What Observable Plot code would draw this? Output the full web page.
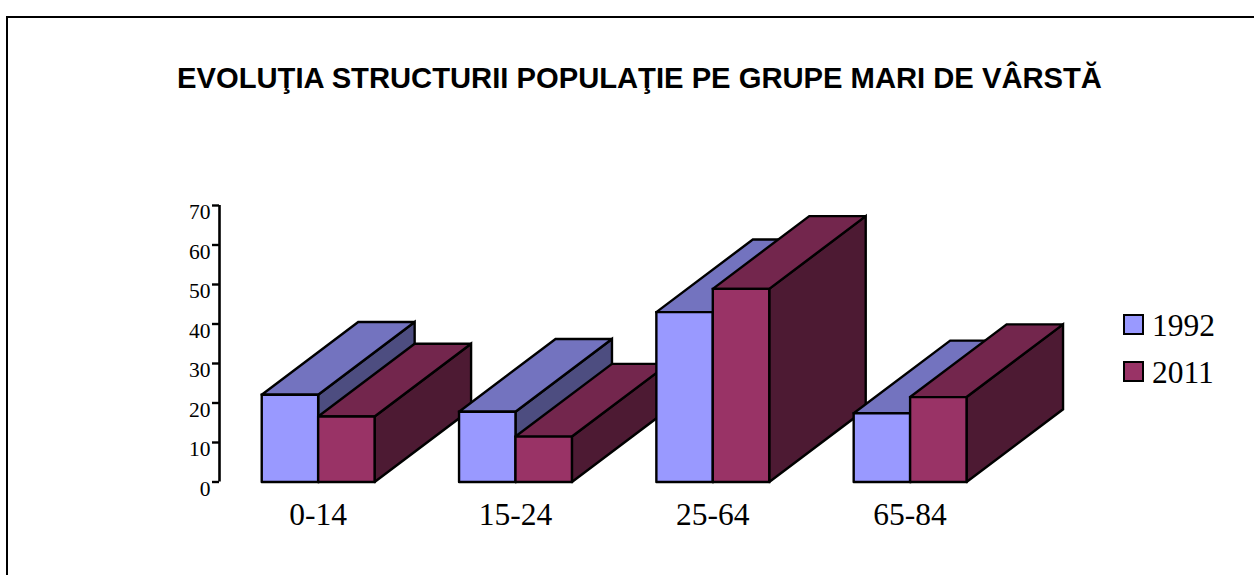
<!DOCTYPE html>
<html>
<head>
<meta charset="utf-8">
<script src="https://cdn.jsdelivr.net/npm/d3@7"></script>
<script src="https://cdn.jsdelivr.net/npm/@observablehq/plot@0.6"></script>
<style>
html,body{margin:0;padding:0;background:#fff;}
#page{position:relative;width:1254px;height:575px;overflow:hidden;color:#000;}
#frame{position:absolute;left:6px;top:16px;width:1260px;height:600px;border:2px solid #000;box-sizing:border-box;}
#title{position:absolute;left:0;width:1279px;top:62px;margin:0;text-align:center;font:bold 29.2px/32px "Liberation Sans",Arial,sans-serif;white-space:nowrap;}
#chart{position:absolute;left:0;top:190px;}
.lg{position:absolute;left:1123px;display:flex;align-items:center;font:31.5px/36px "Liberation Serif","Times New Roman",serif;}
.lg i{display:block;width:21px;height:21px;box-sizing:border-box;border:2.4px solid #000;margin-right:8px;}
.lg span{position:relative;top:2px;}
</style>
</head>
<body>
<div id="page">
  <div id="frame"></div>
  <h1 id="title">EVOLUŢIA STRUCTURII POPULAŢIE PE GRUPE MARI DE VÂRSTĂ</h1>
  <div id="chart"></div>
</div>
<script>
const categories = ["0-14", "15-24", "25-64", "65-84"];
const years = ["1992", "2011"];
const values1992 = [22.1, 17.8, 43, 17.4];
const values2011 = [16.6, 11.5, 48.9, 21.5];
const yTicks = [0, 10, 20, 30, 40, 50, 60, 70];

const frontColors = ["#9999FF", "#993366"];
const topColors = ["#7373BF", "#73264D"];
const sideColors = ["#4D4D80", "#4D1A33"];

// Extrusion of the pseudo-3D boxes, expressed in scale units.
const barWidth = 0.286;
const depthX = 0.489;
const depthY = 18.4;

const faces = [];
function addFace(id, fill, pts) {
  for (const [x, y] of pts) faces.push({id, fill, x, y});
  faces.push({id, fill, x: pts[0][0], y: pts[0][1]});
}
categories.forEach((c, i) => {
  [values1992, values2011].forEach((vals, s) => {
    const v = vals[i];
    const x0 = i + (s - 1) * barWidth, x1 = x0 + barWidth;
    const key = `${c}-${years[s]}`;
    addFace(key + "-side", sideColors[s], [[x1, 0], [x1 + depthX, depthY], [x1 + depthX, v + depthY], [x1, v]]);
    addFace(key + "-top", topColors[s], [[x0, v], [x0 + depthX, v + depthY], [x1 + depthX, v + depthY], [x1, v]]);
    addFace(key + "-front", frontColors[s], [[x0, 0], [x0, v], [x1, v], [x1, 0]]);
  });
});

const plot = Plot.plot({
  width: 1254,
  height: 385,
  marginLeft: 219,
  marginRight: 166.8,
  marginTop: 15,
  marginBottom: 93.5,
  style: {background: "transparent", color: "#000", overflow: "visible"},
  x: {domain: [-0.5, 3.9], label: null},
  y: {domain: [0, 70], label: null},
  marks: [
    Plot.line(faces, {
      x: "x", y: "y", z: "id",
      fill: {value: "fill", scale: null},
      stroke: "#000", strokeWidth: 2.4,
      strokeLinejoin: "miter", strokeMiterlimit: 3, strokeOpacity: 1
    }),
    Plot.ruleX([-0.5], {y1: 0, y2: 70, stroke: "#000", strokeWidth: 2.6}),
    Plot.axisY({ticks: yTicks, tickSize: 7, fill: "none", strokeWidth: 2.4, label: null}),
    Plot.axisY({
      ticks: yTicks, tickSize: 0, tickPadding: 9,
      fontSize: 21.5, fontFamily: "Liberation Serif", dy: 7, label: null
    }),
    Plot.axisX({
      ticks: [0, 1, 2, 3], tickFormat: i => categories[i], tickSize: 0, tickPadding: 21,
      fontSize: 31.5, fontFamily: "Liberation Serif", label: null, textOverflow: null
    })
  ]
});
document.getElementById("chart").appendChild(plot);

const page = document.getElementById("page");
years.forEach((y, i) => {
  const el = document.createElement("div");
  el.className = "lg";
  el.style.top = (306 + i * 47) + "px";
  const sw = document.createElement("i");
  sw.style.background = frontColors[i];
  el.appendChild(sw);
  const label = document.createElement("span");
  label.textContent = y;
  el.appendChild(label);
  page.appendChild(el);
});
</script>
</body>
</html>
